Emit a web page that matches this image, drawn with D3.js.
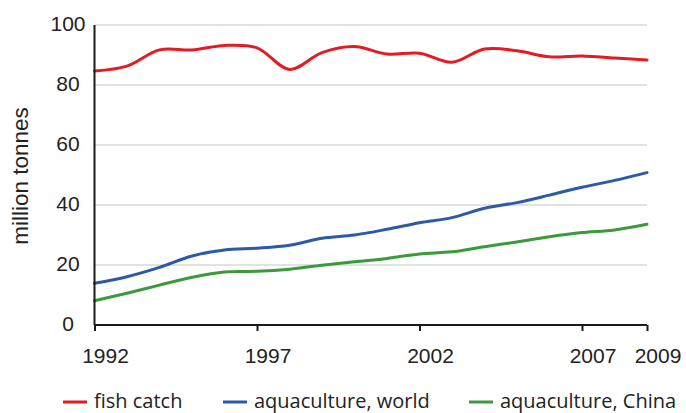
<!DOCTYPE html>
<html>
<head>
<meta charset="utf-8">
<script src="https://cdn.jsdelivr.net/npm/d3@7"></script>
<style>
  html, body { margin: 0; padding: 0; background: #fff; }
  svg { display: block; }
</style>
</head>
<body>
<svg id="chart" width="686" height="413"></svg>
<script>
const years = [1992,1993,1994,1995,1996,1997,1998,1999,2000,2001,2002,2003,2004,2005,2006,2007,2008,2009];
const fishCatch = [84.7,86.3,91.7,91.7,93.2,92.4,85.2,90.8,92.8,90.3,90.6,87.6,92.0,91.4,89.4,89.7,89.0,88.3];
const aquaWorld = [13.9,16.1,19.2,23.0,25.0,25.6,26.6,28.9,30.0,31.9,34.1,35.8,38.9,40.8,43.3,45.9,48.2,50.8];
const aquaChina = [8.1,10.6,13.3,15.9,17.7,17.9,18.6,19.9,21.1,22.2,23.7,24.4,26.1,27.7,29.4,30.8,31.7,33.6];
const xTickLabels = [1992,1997,2002,2007,2009];
const yTicks = [0,20,40,60,80,100];
const seriesNames = ["fish catch","aquaculture, world","aquaculture, China"];
const seriesColors = ["#e31b23","#2c5aa6","#3a9a3c"];
const yTitle = "million tonnes";

(function () {
const svg = d3.select("#chart");
const mLeft = 94.5, mRight = 647, mTop = 25, mBottom = 325;
const x = d3.scaleLinear().domain([1992, 2009]).range([mLeft, mRight]);
const y = d3.scaleLinear().domain([0, 100]).range([mBottom, mTop]);

// gridlines
svg.append("g").selectAll("line").data(yTicks.filter(d => d > 0)).join("line")
  .attr("x1", mLeft).attr("x2", mRight)
  .attr("y1", d => y(d)).attr("y2", d => y(d))
  .attr("stroke", "#c6c6c6").attr("stroke-width", 1.2);

// y labels
svg.append("g").selectAll("text").data(yTicks).join("text")
  .attr("x", 68).attr("y", d => y(d) + 5.5)
  .attr("text-anchor", "middle")
  .attr("font-family", "Liberation Sans, Arial, sans-serif")
  .attr("font-size", 21).attr("fill", "#222")
  .text(d => d);

// y title
svg.append("text")
  .attr("transform", "translate(28,176) rotate(-90)")
  .attr("text-anchor", "middle")
  .attr("font-family", "Liberation Sans, Arial, sans-serif")
  .attr("font-size", 22.5).attr("fill", "#222")
  .text(yTitle);

// lines
const line = d3.line().x((d, i) => x(years[i])).y(d => y(d)).curve(d3.curveCatmullRom.alpha(0.5));
[fishCatch, aquaWorld, aquaChina].forEach((s, k) => {
  svg.append("path").datum(s)
    .attr("d", line)
    .attr("fill", "none")
    .attr("stroke", seriesColors[k])
    .attr("stroke-width", 3)
    .attr("stroke-linecap", "round")
    .attr("stroke-linejoin", "round");
});

// axes
const xAxis = d3.axisBottom(x).tickValues(xTickLabels).tickSize(6).tickFormat("");
const gx = svg.append("g").attr("transform", `translate(0,${mBottom})`).call(xAxis);
gx.select(".domain").attr("stroke", "#1a1a1a").attr("stroke-width", 2).attr("d", `M${mLeft},0H${mRight}`);
gx.selectAll(".tick line").attr("stroke", "#1a1a1a").attr("stroke-width", 2);

svg.append("line").attr("x1", mLeft).attr("x2", mLeft).attr("y1", mTop).attr("y2", mBottom)
  .attr("stroke", "#1a1a1a").attr("stroke-width", 2);

// x labels
svg.append("g").selectAll("text").data(xTickLabels).join("text")
  .attr("x", d => x(d) + 11).attr("y", 363)
  .attr("text-anchor", "middle")
  .attr("font-family", "Liberation Sans, Arial, sans-serif")
  .attr("font-size", 21).attr("fill", "#222")
  .text(d => d);

// legend
const legX = [63, 223, 469];
const lg = svg.append("g");
seriesNames.forEach((n, k) => {
  lg.append("line").attr("x1", legX[k]).attr("x2", legX[k] + 24)
    .attr("y1", 402).attr("y2", 402)
    .attr("stroke", seriesColors[k]).attr("stroke-width", 3);
  lg.append("text").attr("x", legX[k] + 31).attr("y", 408)
    .attr("font-family", "Open Sans, Noto Sans, sans-serif")
    .attr("font-size", 20).attr("fill", "#222")
    .text(n);
});
})();
</script>
</body>
</html>
